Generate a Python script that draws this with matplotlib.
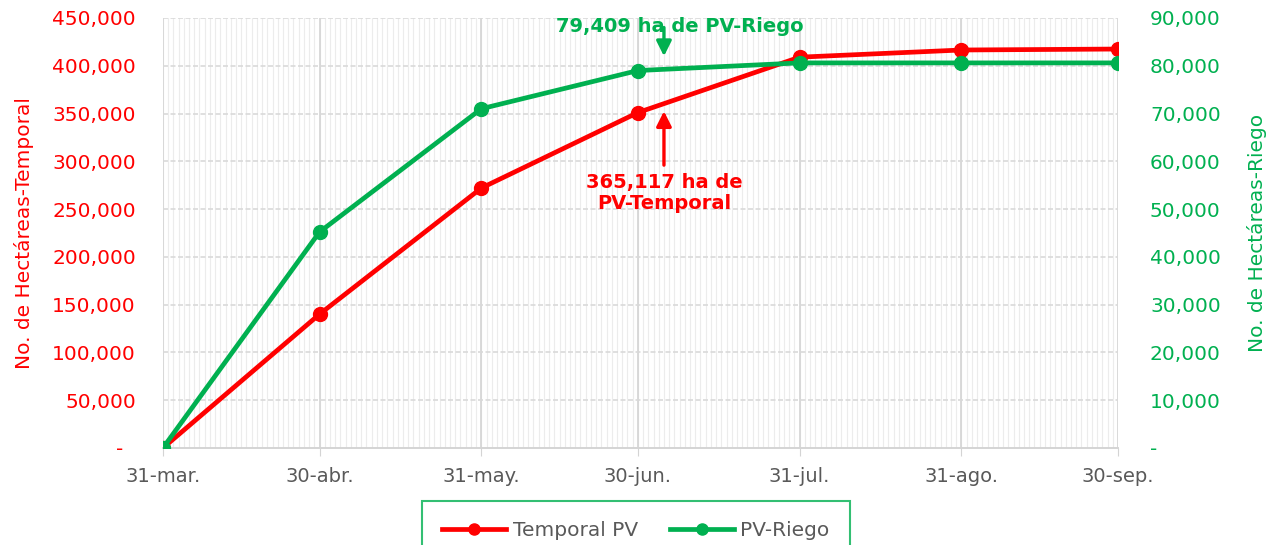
import matplotlib
matplotlib.use("Agg")
import matplotlib.pyplot as plt
import matplotlib.ticker as mticker
import numpy as np
import pandas as pd

# datos
fechas = ["2023-03-31", "2023-04-30", "2023-05-31", "2023-06-30",
          "2023-07-31", "2023-08-31", "2023-09-30"]
etiquetas_x = ["31-mar.", "30-abr.", "31-may.", "30-jun.", "31-jul.", "31-ago.", "30-sep."]
temporal_pv = [0, 140000, 272000, 351000, 409000, 416500, 417500]
pv_riego = [0, 45200, 71000, 79000, 80600, 80600, 80600]

ROJO = "#FF0000"
VERDE = "#00B050"
GRIS = "#595959"

plt.rcParams['font.family'] = ['DejaVu Sans']
x = pd.to_datetime(fechas)

fig = plt.figure(figsize=(12.78, 5.45), dpi=100)
ax = fig.add_axes([0.1275, 0.178, 0.7473, 0.789])
ax2 = ax.twinx()

# rejilla diaria
dias = pd.date_range(x[0], x[-1], freq="D")
for d in dias:
    ax.axvline(d, color="#ececec", lw=0.8, zorder=0)
for d in x:
    ax.axvline(d, color="#d4d4d4", lw=1.2, zorder=0)
for v in np.arange(50000, 450001, 50000):
    ax.axhline(v, color="#d9d9d9", lw=1.2, ls=(0, (3, 1.5)), zorder=0)

l1, = ax.plot(x, temporal_pv, color=ROJO, lw=3.4, marker="o", ms=10, zorder=3,
              label="Temporal PV")
l2, = ax2.plot(x, pv_riego, color=VERDE, lw=3.4, marker="o", ms=10, zorder=3,
               label="PV-Riego")

ax.set_xlim(x[0], x[-1])
ax.set_ylim(0, 450000)
ax2.set_ylim(0, 90000)

ax.set_xticks(x)
ax.set_xticklabels(etiquetas_x, color=GRIS, fontsize=14)
ax.tick_params(axis="x", length=6, color="#d4d4d4", pad=8)

def fmt_izq(v, p):
    return "-  " if v == 0 else f"{int(v):,}"

def fmt_der(v, p):
    return "-" if v == 0 else f"{int(v):,}"

ax.set_yticks(np.arange(0, 450001, 50000))
ax.yaxis.set_major_formatter(mticker.FuncFormatter(fmt_izq))
ax.tick_params(axis="y", length=0, labelcolor=ROJO, labelsize=14.5, pad=19.5)
ax2.set_yticks(np.arange(0, 90001, 10000))
ax2.yaxis.set_major_formatter(mticker.FuncFormatter(fmt_der))
ax2.tick_params(axis="y", length=0, labelcolor=VERDE, labelsize=14.5, pad=23)

ax.set_ylabel("No. de Hectáreas-Temporal", color=ROJO, fontsize=14.5, labelpad=13)
ax2.set_ylabel("No. de Hectáreas-Riego", color=VERDE, fontsize=14.5, labelpad=19)

for a in (ax, ax2):
    for s in ("top", "left", "right"):
        a.spines[s].set_visible(False)
    a.spines["bottom"].set_color("#d4d4d4")
    a.spines["bottom"].set_linewidth(1.2)

# anotaciones
fecha_flecha = pd.Timestamp("2023-07-05")
flecha = "-|>,head_length=0.9,head_width=0.45"
ax2.annotate("", xy=(fecha_flecha, 82000), xytext=(fecha_flecha, 88000),
             arrowprops=dict(arrowstyle=flecha, color=VERDE, lw=2.4,
                             shrinkA=0, shrinkB=0), zorder=5)
ax2.text(pd.Timestamp("2023-07-08"), 88300, "79,409 ha de PV-Riego", color=VERDE,
         fontsize=14, ha="center", va="center", fontweight="bold", zorder=6)

ax.annotate("", xy=(fecha_flecha, 352500), xytext=(fecha_flecha, 296000),
            arrowprops=dict(arrowstyle=flecha, color=ROJO, lw=2.4,
                            shrinkA=0, shrinkB=0), zorder=5)
ax.text(pd.Timestamp("2023-07-05"), 267000, "365,117 ha de\nPV-Temporal", color=ROJO,
        fontsize=14, ha="center", va="center", fontweight="bold", linespacing=1.15,
        zorder=6)

leg = fig.legend([l1, l2], ["Temporal PV", "PV-Riego"], loc="upper center",
                 bbox_to_anchor=(0.4975, 0.1), ncol=2, fontsize=14.5, frameon=True,
                 fancybox=False, handlelength=3.2, handletextpad=0.3,
                 columnspacing=1.6, borderpad=1.0, markerscale=0.8)
leg.get_frame().set_edgecolor(VERDE)
leg.get_frame().set_linewidth(1.5)
for t in leg.get_texts():
    t.set_color(GRIS)

fig.savefig("out.png", dpi=100)
